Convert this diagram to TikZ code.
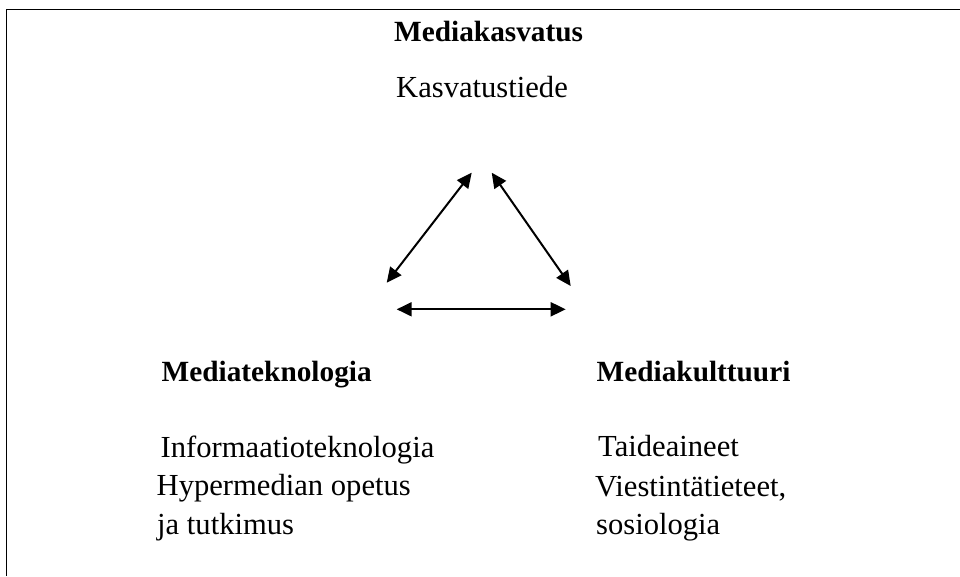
\documentclass[tikz,border=0pt]{standalone}
\usepackage{fontspec}
\setmainfont{Liberation Serif}
\usetikzlibrary{arrows.meta}
\begin{document}
\begin{tikzpicture}[x=1pt,y=1pt,
  txt/.style={anchor=base west,inner sep=0pt,font=\fontsize{30.6}{38.5}\selectfont},
  hd/.style={txt,font=\fontsize{29.3}{38.5}\selectfont\bfseries},
  dbl/.style={line width=2pt,{Triangle[length=15pt,width=14pt]}-{Triangle[length=15pt,width=14pt]}}]
\useasboundingbox (0,0) rectangle (960,-576);
\draw[line width=1.4pt] (6.5,-576) -- (6.5,-9.5) -- (960,-9.5);
% texts
\node[hd] (top) at (394,-41) {Mediakasvatus};
\node[txt] (topsub) at (396,-97) {Kasvatustiede};
\node[hd] (left) at (161.5,-381) {Mediateknologia};
\node[txt] (l1) at (160.5,-457) {Informaatioteknologia};
\node[txt] (l2) at (156.5,-495) {Hypermedian opetus};
\node[txt] (l3) at (157,-534) {ja tutkimus};
\node[hd] (right) at (596.5,-381.5) {Mediakulttuuri};
\node[txt] (r1) at (598,-456.5) {Taideaineet};
\node[txt] (r2) at (595,-496) {Viestintätieteet,};
\node[txt] (r3) at (596,-534) {sosiologia};
% arrow ends
\coordinate (aT) at (471.7,-172.7);
\coordinate (aB) at (386.7,-282.7);
\coordinate (bT) at (491.7,-172.7);
\coordinate (bB) at (570.7,-286);
\coordinate (cL) at (396.7,-309.3);
\coordinate (cR) at (565.7,-309.3);
\draw[dbl] (aB) -- (aT);
\draw[dbl] (bT) -- (bB);
\draw[dbl] (cL) -- (cR);
\end{tikzpicture}
\end{document}
